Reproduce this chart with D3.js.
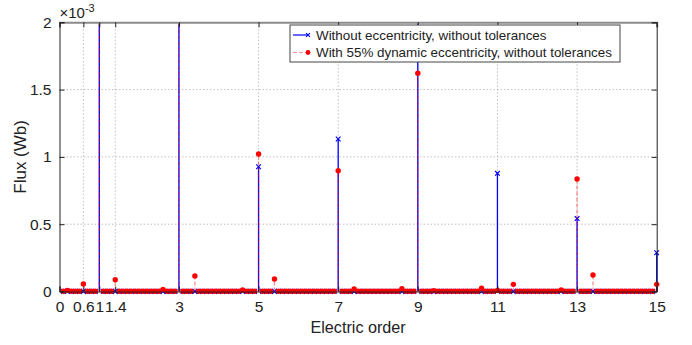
<!DOCTYPE html>
<html>
<head>
<meta charset="utf-8">
<script src="https://cdn.jsdelivr.net/npm/d3@7"></script>
<style>
  body { margin: 0; background: #fff; }
  text { font-family: "Liberation Sans", Arial, sans-serif; fill: #222; }
</style>
</head>
<body>
<script>
// electric orders (x categories), 0.1 step
const orders = [
  0.1, 0.2, 0.3, 0.4, 0.5, 0.6, 0.7, 0.8, 0.9, 1.0,
  1.1, 1.2, 1.3, 1.4, 1.5, 1.6, 1.7, 1.8, 1.9, 2.0,
  2.1, 2.2, 2.3, 2.4, 2.5, 2.6, 2.7, 2.8, 2.9, 3.0,
  3.1, 3.2, 3.3, 3.4, 3.5, 3.6, 3.7, 3.8, 3.9, 4.0,
  4.1, 4.2, 4.3, 4.4, 4.5, 4.6, 4.7, 4.8, 4.9, 5.0,
  5.1, 5.2, 5.3, 5.4, 5.5, 5.6, 5.7, 5.8, 5.9, 6.0,
  6.1, 6.2, 6.3, 6.4, 6.5, 6.6, 6.7, 6.8, 6.9, 7.0,
  7.1, 7.2, 7.3, 7.4, 7.5, 7.6, 7.7, 7.8, 7.9, 8.0,
  8.1, 8.2, 8.3, 8.4, 8.5, 8.6, 8.7, 8.8, 8.9, 9.0,
  9.1, 9.2, 9.3, 9.4, 9.5, 9.6, 9.7, 9.8, 9.9, 10.0,
  10.1, 10.2, 10.3, 10.4, 10.5, 10.6, 10.7, 10.8, 10.9, 11.0,
  11.1, 11.2, 11.3, 11.4, 11.5, 11.6, 11.7, 11.8, 11.9, 12.0,
  12.1, 12.2, 12.3, 12.4, 12.5, 12.6, 12.7, 12.8, 12.9, 13.0,
  13.1, 13.2, 13.3, 13.4, 13.5, 13.6, 13.7, 13.8, 13.9, 14.0,
  14.1, 14.2, 14.3, 14.4, 14.5, 14.6, 14.7, 14.8, 14.9, 15.0
];

// flux in units of 1e-3 Wb, without eccentricity
const fluxHealthy = [
  0.001, 0.001, 0.001, 0.001, 0.001, 0.001, 0.001, 0.001, 0.001, 3.0,
  0.001, 0.001, 0.001, 0.001, 0.001, 0.001, 0.001, 0.001, 0.001, 0.001,
  0.001, 0.001, 0.001, 0.001, 0.001, 0.001, 0.001, 0.001, 0.001, 3.0,
  0.001, 0.001, 0.001, 0.001, 0.001, 0.001, 0.001, 0.001, 0.001, 0.001,
  0.001, 0.001, 0.001, 0.001, 0.001, 0.001, 0.001, 0.001, 0.001, 0.927,
  0.001, 0.001, 0.001, 0.001, 0.001, 0.001, 0.001, 0.001, 0.001, 0.001,
  0.001, 0.001, 0.001, 0.001, 0.001, 0.001, 0.001, 0.001, 0.001, 1.133,
  0.001, 0.001, 0.001, 0.001, 0.001, 0.001, 0.001, 0.001, 0.001, 0.001,
  0.001, 0.001, 0.001, 0.001, 0.001, 0.001, 0.001, 0.001, 0.001, 3.0,
  0.001, 0.001, 0.001, 0.001, 0.001, 0.001, 0.001, 0.001, 0.001, 0.001,
  0.001, 0.001, 0.001, 0.001, 0.001, 0.001, 0.001, 0.001, 0.001, 0.878,
  0.001, 0.001, 0.001, 0.001, 0.001, 0.001, 0.001, 0.001, 0.001, 0.001,
  0.001, 0.001, 0.001, 0.001, 0.001, 0.001, 0.001, 0.001, 0.001, 0.542,
  0.001, 0.001, 0.001, 0.001, 0.001, 0.001, 0.001, 0.001, 0.001, 0.001,
  0.001, 0.001, 0.001, 0.001, 0.001, 0.001, 0.001, 0.001, 0.001, 0.288
];

// flux in units of 1e-3 Wb, with 55% dynamic eccentricity
const fluxEccentric = [
  0.002, 0.008, 0.002, 0.002, 0.002, 0.056, 0.002, 0.002, 0.002, 3.0,
  0.002, 0.002, 0.002, 0.088, 0.002, 0.002, 0.002, 0.002, 0.002, 0.002,
  0.002, 0.002, 0.002, 0.002, 0.002, 0.016, 0.002, 0.002, 0.002, 3.0,
  0.002, 0.002, 0.002, 0.115, 0.002, 0.002, 0.002, 0.002, 0.002, 0.002,
  0.002, 0.002, 0.002, 0.002, 0.002, 0.011, 0.002, 0.002, 0.002, 1.022,
  0.002, 0.002, 0.002, 0.093, 0.002, 0.002, 0.002, 0.002, 0.002, 0.002,
  0.002, 0.002, 0.002, 0.002, 0.002, 0.002, 0.002, 0.002, 0.002, 0.897,
  0.002, 0.002, 0.002, 0.019, 0.002, 0.002, 0.002, 0.002, 0.002, 0.002,
  0.002, 0.002, 0.002, 0.002, 0.002, 0.021, 0.002, 0.002, 0.002, 1.621,
  0.002, 0.002, 0.002, 0.006, 0.002, 0.002, 0.002, 0.002, 0.002, 0.002,
  0.002, 0.002, 0.002, 0.002, 0.002, 0.024, 0.002, 0.002, 0.002, 0.008,
  0.002, 0.002, 0.002, 0.053, 0.002, 0.002, 0.002, 0.002, 0.002, 0.002,
  0.002, 0.002, 0.002, 0.002, 0.002, 0.011, 0.002, 0.002, 0.002, 0.836,
  0.002, 0.002, 0.002, 0.123, 0.002, 0.002, 0.002, 0.002, 0.002, 0.002,
  0.002, 0.002, 0.002, 0.002, 0.002, 0.002, 0.002, 0.002, 0.002, 0.053
];

const xTicks = [0, 0.6, 1, 1.4, 3, 5, 7, 9, 11, 13, 15];
const yTicks = [0, 0.5, 1, 1.5, 2];
const legendLabels = [
  "Without eccentricity, without tolerances",
  "With 55% dynamic eccentricity, without tolerances"
];

const width = 692, height = 345;
const margin = { top: 22.3, right: 35.3, bottom: 53.5, left: 59.5 };
const w = width - margin.left - margin.right;
const h = height - margin.top - margin.bottom;

const svg = d3.select("body").append("svg")
  .attr("width", width)
  .attr("height", height);

const g = svg.append("g")
  .attr("transform", `translate(${margin.left},${margin.top})`);

const x = d3.scaleLinear().domain([0, 15]).range([0, w]);
const y = d3.scaleLinear().domain([0, 2]).range([h, 0]);

svg.append("defs").append("clipPath").attr("id", "plot")
  .append("rect").attr("x", -4).attr("y", 0).attr("width", w + 8).attr("height", h + 4);

// grid lines
g.append("g").selectAll("line")
  .data(xTicks.filter(d => d > 0 && d < 15))
  .join("line")
  .attr("x1", d => x(d)).attr("x2", d => x(d))
  .attr("y1", 0).attr("y2", h)
  .attr("stroke", "#b0b0b0").attr("stroke-width", 0.8)
  .attr("stroke-dasharray", "1.5,2");
g.append("g").selectAll("line")
  .data(yTicks.filter(d => d > 0 && d < 2))
  .join("line")
  .attr("x1", 0).attr("x2", w)
  .attr("y1", d => y(d)).attr("y2", d => y(d))
  .attr("stroke", "#b0b0b0").attr("stroke-width", 0.8)
  .attr("stroke-dasharray", "1.5,2");

const plot = g.append("g").attr("clip-path", "url(#plot)");

const healthy = orders.map((o, i) => ({ o, v: fluxHealthy[i] }));
const eccentric = orders.map((o, i) => ({ o, v: fluxEccentric[i] }));

// series 1: blue stems with x markers
plot.append("g").selectAll("line")
  .data(healthy)
  .join("line")
  .attr("x1", d => x(d.o)).attr("x2", d => x(d.o))
  .attr("y1", y(0)).attr("y2", d => y(d.v))
  .attr("stroke", "#0000ff").attr("stroke-width", 1.3);
plot.append("g").selectAll("path")
  .data(healthy)
  .join("path")
  .attr("transform", d => `translate(${x(d.o)},${y(d.v)})`)
  .attr("d", d3.symbol(d3.symbolX, 16))
  .attr("fill", "none").attr("stroke", "#0000ff").attr("stroke-width", 1.2);

// series 2: red dashed stems with dot markers
plot.append("g").selectAll("line")
  .data(eccentric)
  .join("line")
  .attr("x1", d => x(d.o)).attr("x2", d => x(d.o))
  .attr("y1", y(0)).attr("y2", d => y(d.v))
  .attr("stroke", "#ff0000").attr("stroke-opacity", 0.45)
  .attr("stroke-width", 1.3).attr("stroke-dasharray", "4,2");
plot.append("g").selectAll("circle")
  .data(eccentric)
  .join("circle")
  .attr("cx", d => x(d.o)).attr("cy", d => y(d.v))
  .attr("r", 2.7)
  .attr("fill", "#ff0000");

// axes (MATLAB style, ticks inward)
const xAxis = g.append("g").attr("transform", `translate(0,${h})`)
  .call(d3.axisBottom(x).tickValues(xTicks).tickSize(-5).tickPadding(9)
    .tickFormat(d3.format("~g")));
const xAxisTop = g.append("g")
  .call(d3.axisTop(x).tickValues(xTicks).tickSize(-5).tickFormat(""));
const yAxis = g.append("g")
  .call(d3.axisLeft(y).tickValues(yTicks).tickSize(-5).tickPadding(8)
    .tickFormat(d3.format("~g")));
const yAxisRight = g.append("g").attr("transform", `translate(${w},0)`)
  .call(d3.axisRight(y).tickValues(yTicks).tickSize(-5).tickFormat(""));

[xAxis, yAxis, yAxisRight].forEach(a => {
  a.select(".domain").attr("stroke", "#222").attr("stroke-width", 1);
  a.selectAll(".tick line").attr("stroke", "#222");
  a.selectAll("text").attr("font-size", 15.5).attr("fill", "#262626")
    .attr("font-family", "'Liberation Sans', Arial, sans-serif");
});
xAxisTop.select(".domain").attr("stroke", "#8a8a8a").attr("stroke-width", 2);
xAxisTop.selectAll(".tick line").attr("stroke", "#222");

// exponent label
const expo = svg.append("text")
  .attr("x", margin.left).attr("y", 18)
  .attr("font-size", 15);
expo.append("tspan").text("\u00d710");
expo.append("tspan").attr("font-size", 11).attr("dy", -6).text("-3");

// axis titles
svg.append("text")
  .attr("x", margin.left + w / 2).attr("y", 333)
  .attr("text-anchor", "middle").attr("font-size", 16.2)
  .text("Electric order");
svg.append("text")
  .attr("transform", `translate(26,${margin.top + h / 2}) rotate(-90)`)
  .attr("text-anchor", "middle").attr("font-size", 17)
  .text("Flux (Wb)");

// legend
const lg = svg.append("g").attr("transform", "translate(290,25)");
lg.append("rect")
  .attr("width", 330).attr("height", 37)
  .attr("fill", "#fff").attr("stroke", "#444").attr("stroke-width", 1);
legendLabels.forEach((label, i) => {
  const cy = 10 + i * 17.5;
  if (i === 0) {
    lg.append("line").attr("x1", 3).attr("x2", 18).attr("y1", cy).attr("y2", cy)
      .attr("stroke", "#0000ff").attr("stroke-width", 1.2);
    lg.append("path").attr("transform", `translate(18,${cy})`)
      .attr("d", d3.symbol(d3.symbolX, 12))
      .attr("fill", "none").attr("stroke", "#0000ff").attr("stroke-width", 1.1);
  } else {
    lg.append("line").attr("x1", 3).attr("x2", 18).attr("y1", cy).attr("y2", cy)
      .attr("stroke", "#ff0000").attr("stroke-opacity", 0.45)
      .attr("stroke-width", 1.2).attr("stroke-dasharray", "4,2");
    lg.append("circle").attr("cx", 18).attr("cy", cy).attr("r", 2.4)
      .attr("fill", "#ff0000");
  }
  lg.append("text").attr("x", 26).attr("y", cy + 4.7)
    .attr("font-size", 13.4).text(label);
});
</script>
</body>
</html>
